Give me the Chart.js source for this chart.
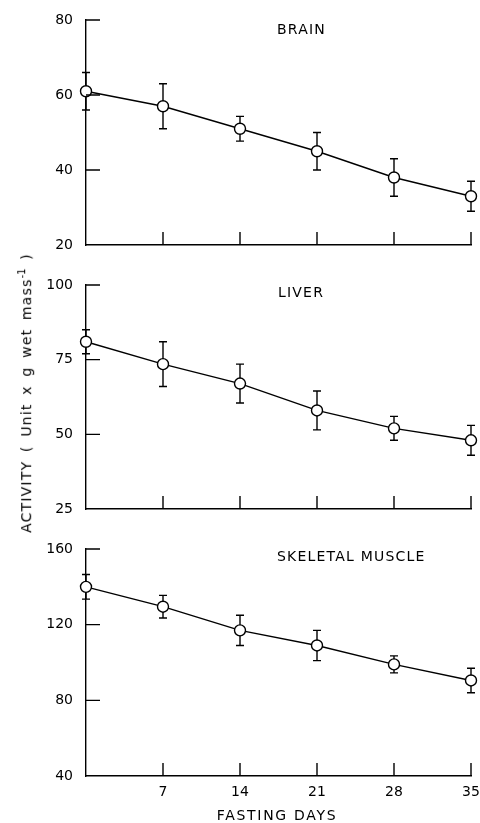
<!DOCTYPE html>
<html>
<head>
<meta charset="utf-8">
<script src="https://cdn.jsdelivr.net/npm/chart.js@4.4.1/dist/chart.umd.min.js"></script>
<style>
  body { margin: 0; background: #fff; }
  #wrap { position: relative; width: 480px; height: 823px; font-family: "DejaVu Sans", sans-serif; }
  .panel { position: absolute; left: 0; width: 480px; }
  #ytitle { position: absolute; left: 25px; top: 393px; transform: translate(-50%, -50%) rotate(-90deg);
            white-space: nowrap; font-size: 14px; letter-spacing: 1.2px; word-spacing: 3px; color: #000; }
  #ytitle sup { font-size: 10px; letter-spacing: 0; }
</style>
</head>
<body>
<div id="wrap">
  <div class="panel" style="top:0;height:260px"><canvas id="brainGraph"></canvas></div>
  <div class="panel" style="top:265px;height:260px"><canvas id="liverGraph"></canvas></div>
  <div class="panel" style="top:529px;height:294px"><canvas id="muscleGraph"></canvas></div>
  <div id="ytitle">ACTIVITY ( Unit x g wet mass<sup>-1</sup> )</div>
</div>
<script>
let days = [0, 7, 14, 21, 28, 35];

let brainMean = [61, 57, 51, 45, 38, 33];
let brainErr = [5, 6, 3.3, 5, 5, 4];
let brainTicks = [20, 40, 60, 80];

let liverMean = [81, 73.5, 67, 58, 52, 48];
let liverErr = [4, 7.5, 6.5, 6.5, 4, 5];
let liverTicks = [25, 50, 75, 100];

let muscleMean = [140, 129.5, 117, 109, 99, 90.5];
let muscleErr = [6.5, 6, 8, 8, 4.5, 6.5];
let muscleTicks = [40, 80, 120, 160];

let fontName = "'DejaVu Sans', sans-serif";
Chart.defaults.color = '#000';
Chart.defaults.font.family = fontName;
Chart.defaults.font.size = 14;

// vertical error bars with small caps, drawn under the circles
let errorBars = {
  id: 'errorBars',
  beforeDatasetsDraw(chart) {
    let ctx = chart.ctx, xs = chart.scales.x, ys = chart.scales.y;
    let ds = chart.data.datasets[0];
    ctx.save();
    ctx.strokeStyle = '#000';
    ctx.lineWidth = 1.4;
    ds.data.forEach((p, i) => {
      let e = ds.errors[i];
      let px = xs.getPixelForValue(p.x);
      let top = ys.getPixelForValue(p.y + e);
      let bot = ys.getPixelForValue(p.y - e);
      ctx.beginPath();
      ctx.moveTo(px, top); ctx.lineTo(px, bot);
      ctx.moveTo(px - 4, top); ctx.lineTo(px + 4, top);
      ctx.moveTo(px - 4, bot); ctx.lineTo(px + 4, bot);
      ctx.stroke();
    });
    ctx.restore();
  }
};

// tick marks pointing into the plot
let inTicks = {
  id: 'inTicks',
  afterDraw(chart) {
    let ctx = chart.ctx, xs = chart.scales.x, ys = chart.scales.y, a = chart.chartArea;
    ctx.save();
    ctx.strokeStyle = '#000';
    ctx.lineWidth = 1.4;
    ctx.beginPath();
    ys.ticks.forEach(t => {
      if (t.value === ys.min) return;
      let py = ys.getPixelForValue(t.value);
      ctx.moveTo(a.left, py); ctx.lineTo(a.left + 14, py);
    });
    xs.ticks.forEach(t => {
      if (t.value === xs.min) return;
      let px = xs.getPixelForValue(t.value);
      ctx.moveTo(px, a.bottom); ctx.lineTo(px, a.bottom - 13);
    });
    ctx.stroke();
    ctx.restore();
  }
};

let captions = {
  id: 'captions',
  afterDraw(chart, args, opts) {
    let ctx = chart.ctx;
    ctx.save();
    ctx.fillStyle = '#000';
    ctx.font = '14px ' + fontName;
    ctx.textBaseline = 'middle';
    (opts.items || []).forEach(c => {
      ctx.letterSpacing = (c.spacing || 1.2) + 'px';
      ctx.textAlign = c.align || 'left';
      ctx.fillText(c.text, c.x, c.y);
    });
    ctx.restore();
  }
};

function makePanel(id, mean, err, ticks, opt) {
  let pts = days.map((d, i) => ({ x: d, y: mean[i] }));
  return new Chart(document.getElementById(id).getContext('2d'), {
    type: 'line',
    data: {
      datasets: [{
        data: pts,
        errors: err,
        borderColor: '#000',
        borderWidth: 1.4,
        pointRadius: 5.5,
        pointBackgroundColor: '#fff',
        pointBorderColor: '#000',
        pointBorderWidth: 1.4,
        tension: 0,
        clip: false
      }]
    },
    options: {
      responsive: true,
      maintainAspectRatio: false,
      animation: false,
      layout: { padding: { top: 20, right: 9, left: 0, bottom: 0 } },
      plugins: {
        legend: { display: false },
        tooltip: { enabled: false },
        captions: { items: opt.captions }
      },
      scales: {
        x: {
          type: 'linear',
          min: 0, max: 35,
          afterBuildTicks: s => { s.ticks = days.map(v => ({ value: v })); },
          afterFit: s => { s.height = opt.bottom; s.paddingLeft = 0; s.paddingRight = 0; },
          grid: { drawOnChartArea: false, drawTicks: false },
          border: { display: true, color: '#000', width: 1.4 },
          ticks: {
            display: opt.showX,
            padding: 8,
            callback: v => v === 0 ? '' : String(v)
          }
        },
        y: {
          min: ticks[0], max: ticks[ticks.length - 1],
          afterBuildTicks: s => { s.ticks = ticks.map(v => ({ value: v })); },
          afterFit: s => { s.width = 86; s.paddingTop = 0; s.paddingBottom = 0; },
          grid: { drawOnChartArea: false, drawTicks: false },
          border: { display: true, color: '#000', width: 1.4 },
          ticks: { padding: 13 }
        }
      }
    },
    plugins: [errorBars, inTicks, captions]
  });
}

makePanel('brainGraph', brainMean, brainErr, brainTicks, {
  bottom: 15, showX: false,
  captions: [{ text: 'BRAIN', x: 277, y: 30 }]
});
makePanel('liverGraph', liverMean, liverErr, liverTicks, {
  bottom: 16, showX: false,
  captions: [{ text: 'LIVER', x: 278, y: 28 }]
});
makePanel('muscleGraph', muscleMean, muscleErr, muscleTicks, {
  bottom: 47, showX: true,
  captions: [
    { text: 'SKELETAL MUSCLE', x: 277, y: 28 },
    { text: 'FASTING DAYS', x: 277, y: 287, align: 'center', spacing: 1.7 }
  ]
});
</script>
</body>
</html>
